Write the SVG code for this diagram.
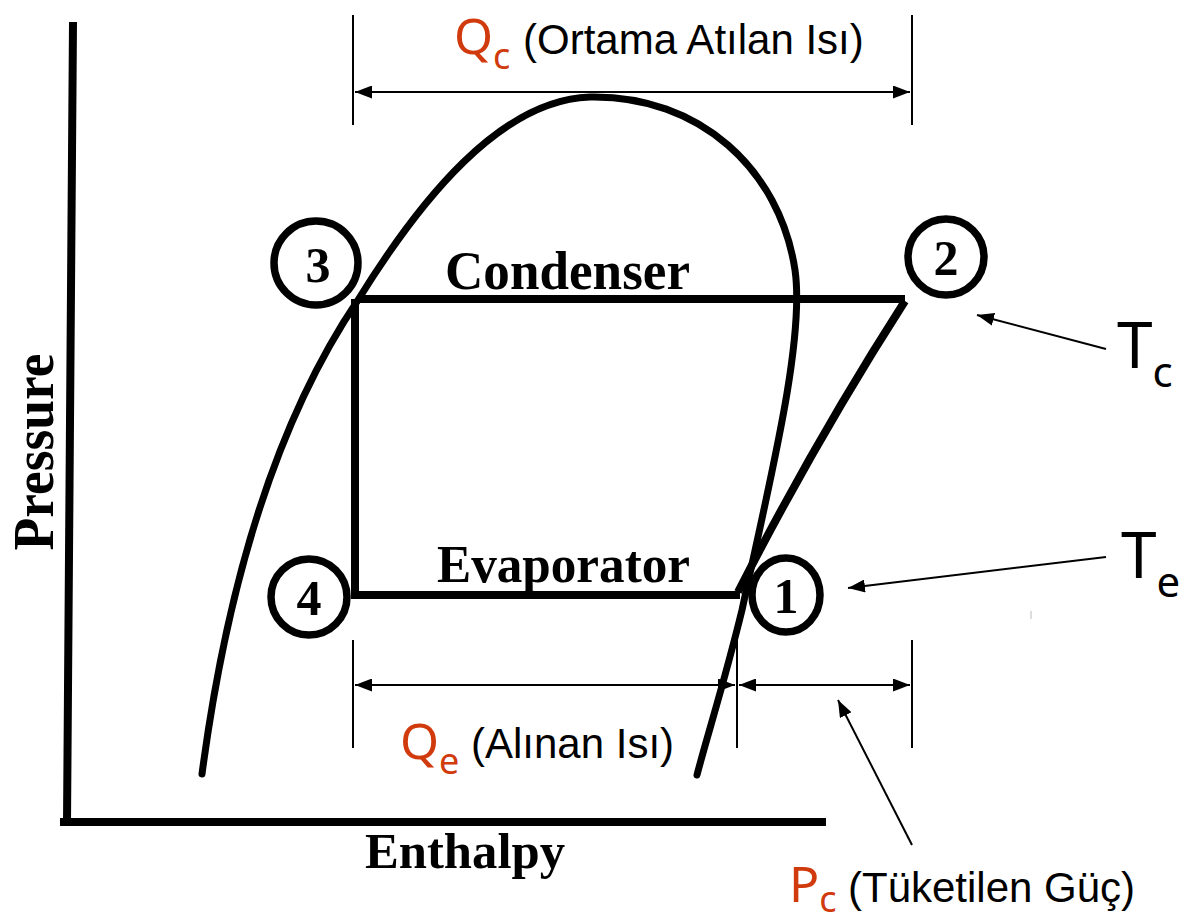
<svg xmlns="http://www.w3.org/2000/svg" width="1179" height="924" viewBox="0 0 1179 924">
<style>
.heavy{fill:none;stroke:#000;stroke-width:8;stroke-linecap:butt;stroke-linejoin:miter}
.dome{fill:none;stroke:#000;stroke-width:7;stroke-linecap:round}
.ring{fill:none;stroke:#000;stroke-width:7.5}
.num{font-family:"Liberation Serif",serif;font-weight:bold;font-size:50px;text-anchor:middle}
.ser{font-family:"Liberation Serif",serif;font-weight:bold;fill:#000}
.dim{stroke:#000;stroke-width:2;fill:none}
.lab{font-family:"Liberation Sans",Arial,sans-serif;font-size:42px;fill:#000}
.sym{font-family:"Noto Sans","Open Sans",sans-serif;fill:#d03a0c}
.blk{font-family:"Noto Sans","Open Sans",sans-serif;fill:#000}
</style>
<defs>
<marker id="ab" viewBox="0 0 10 10" refX="10" refY="5" markerWidth="17" markerHeight="13" markerUnits="userSpaceOnUse" orient="auto-start-reverse" preserveAspectRatio="none">
<path d="M0,0 L10,5 L0,10 z" fill="#000"/>
</marker>
</defs>
<rect width="1179" height="924" fill="#fff"/>
<g id="axes">
<path class="heavy" d="M73,22 L67,822 M60,822 L826,822" stroke-width="9"/>
<text class="ser" transform="translate(53,452) rotate(-90)" text-anchor="middle" font-size="56" textLength="197" lengthAdjust="spacingAndGlyphs">Pressure</text>
<text class="ser" x="465" y="868" text-anchor="middle" font-size="50" textLength="200" lengthAdjust="spacingAndGlyphs">Enthalpy</text>
</g>
<g id="dome">
<path class="dome" d="M202,774 C225,600 270,430 358,300 C420,200 500,100 590,97 C700,95 780,170 795,270 C805,340 770,480 742,610 C725,680 706,740 697,775"/>
</g>
<g id="connectors">
<path class="heavy" d="M358,299 L905,299 M355,299 L355,595 L740,595"/>
<path class="heavy" d="M738,592 C780,510 835,410 905,301" stroke-width="7"/>
<line class="dim" x1="353" y1="15" x2="353" y2="125"/>
<line class="dim" x1="912" y1="15" x2="912" y2="125"/>
<line class="dim" x1="355" y1="92" x2="910" y2="92" marker-start="url(#ab)" marker-end="url(#ab)"/>
<line class="dim" x1="353" y1="640" x2="353" y2="748"/>
<line class="dim" x1="737" y1="640" x2="737" y2="748"/>
<line class="dim" x1="912" y1="640" x2="912" y2="748"/>
<line class="dim" x1="355" y1="685" x2="735" y2="685" marker-start="url(#ab)" marker-end="url(#ab)"/>
<line class="dim" x1="739" y1="685" x2="910" y2="685" marker-start="url(#ab)" marker-end="url(#ab)"/>
<line class="dim" x1="912" y1="845" x2="838" y2="700" stroke-width="2.5" marker-end="url(#ab)"/>
<line class="dim" x1="1106" y1="349" x2="977" y2="315" stroke-width="3" marker-end="url(#ab)"/>
<line class="dim" x1="1106" y1="557" x2="848" y2="588" stroke-width="3" marker-end="url(#ab)"/>
</g>
<g id="node-3">
<circle class="ring" cx="316" cy="263" r="42"/>
<text class="num" x="318" y="282">3</text>
</g>
<g id="node-2">
<circle class="ring" cx="946" cy="257" r="38"/>
<text class="num" x="946" y="275">2</text>
</g>
<g id="node-4">
<circle class="ring" cx="309" cy="597" r="38"/>
<text class="num" x="309" y="615">4</text>
</g>
<g id="node-1">
<ellipse class="ring" cx="786" cy="595" rx="34" ry="37"/>
<text class="num" x="786" y="613">1</text>
</g>
<g id="label-condenser">
<text class="ser" x="445" y="289" font-size="54" textLength="245" lengthAdjust="spacingAndGlyphs">Condenser</text>
</g>
<g id="label-evaporator">
<text class="ser" x="437" y="582" font-size="52" textLength="253" lengthAdjust="spacingAndGlyphs">Evaporator</text>
</g>
<g id="label-qc">
<text x="454" y="54"><tspan class="sym" font-size="50">Q</tspan><tspan class="sym" font-size="36" dy="15">c</tspan></text>
<text class="lab" x="523" y="54">(Ortama Atılan Isı)</text>
</g>
<g id="label-qe">
<text x="400" y="759"><tspan class="sym" font-size="50">Q</tspan><tspan class="sym" font-size="36" dy="15">e</tspan></text>
<text class="lab" x="471" y="758">(Alınan Isı)</text>
</g>
<g id="label-pc">
<text x="789" y="902"><tspan class="sym" font-size="50">P</tspan><tspan class="sym" font-size="36" dy="10">c</tspan></text>
<text class="lab" x="848" y="902">(Tüketilen Güç)</text>
</g>
<g id="label-tc">
<text x="1117" y="368"><tspan class="blk" font-size="64">T</tspan><tspan class="blk" font-size="42" dy="19">c</tspan></text>
</g>
<g id="label-te">
<text x="1121" y="578"><tspan class="blk" font-size="64">T</tspan><tspan class="blk" font-size="42" dy="19">e</tspan></text>
</g>
<rect x="1030" y="611" width="2" height="8" fill="#ddd"/>
</svg>
